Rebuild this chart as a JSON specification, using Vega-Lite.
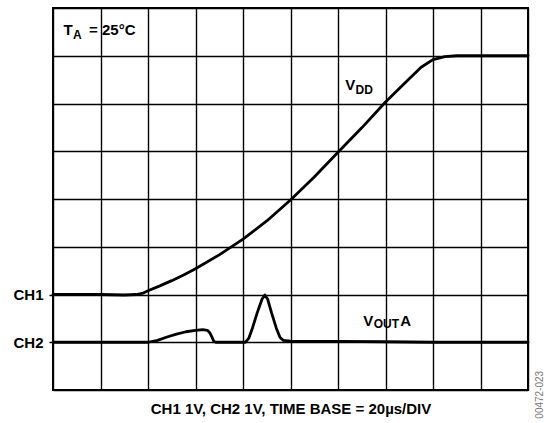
{
  "$schema": "https://vega.github.io/schema/vega-lite/v6.json",
  "width": 475,
  "height": 382,
  "autosize": {"type": "none"},
  "padding": {"left": 53, "top": 8, "right": 21, "bottom": 33},
  "background": "white",
  "config": {
    "view": {"stroke": "black", "strokeWidth": 2},
    "font": "Liberation Sans"
  },
  "datasets": {
    "traces": [
      {"series": "VDD", "x": 0, "y": 2.0},
      {"series": "VDD", "x": 1.0, "y": 2.0},
      {"series": "VDD", "x": 1.5, "y": 1.99},
      {"series": "VDD", "x": 1.75, "y": 2.0},
      {"series": "VDD", "x": 1.9, "y": 2.03},
      {"series": "VDD", "x": 2.0, "y": 2.08},
      {"series": "VDD", "x": 2.25, "y": 2.18},
      {"series": "VDD", "x": 2.5, "y": 2.29},
      {"series": "VDD", "x": 2.75, "y": 2.41},
      {"series": "VDD", "x": 3.0, "y": 2.54},
      {"series": "VDD", "x": 3.5, "y": 2.83},
      {"series": "VDD", "x": 4.0, "y": 3.16},
      {"series": "VDD", "x": 4.5, "y": 3.54},
      {"series": "VDD", "x": 5.0, "y": 3.98},
      {"series": "VDD", "x": 5.5, "y": 4.46},
      {"series": "VDD", "x": 6.0, "y": 4.98},
      {"series": "VDD", "x": 6.5, "y": 5.49},
      {"series": "VDD", "x": 7.0, "y": 6.03},
      {"series": "VDD", "x": 7.5, "y": 6.52},
      {"series": "VDD", "x": 7.75, "y": 6.76},
      {"series": "VDD", "x": 8.0, "y": 6.92},
      {"series": "VDD", "x": 8.25, "y": 6.98},
      {"series": "VDD", "x": 8.5, "y": 7.0},
      {"series": "VDD", "x": 10, "y": 7.0},
      {"series": "VOUTA", "x": 0, "y": 1.0},
      {"series": "VOUTA", "x": 2.0, "y": 1.0},
      {"series": "VOUTA", "x": 2.2, "y": 1.04},
      {"series": "VOUTA", "x": 2.4, "y": 1.11},
      {"series": "VOUTA", "x": 2.6, "y": 1.17},
      {"series": "VOUTA", "x": 2.8, "y": 1.22},
      {"series": "VOUTA", "x": 3.0, "y": 1.25},
      {"series": "VOUTA", "x": 3.15, "y": 1.265},
      {"series": "VOUTA", "x": 3.25, "y": 1.25},
      {"series": "VOUTA", "x": 3.3, "y": 1.2},
      {"series": "VOUTA", "x": 3.35, "y": 1.1},
      {"series": "VOUTA", "x": 3.38, "y": 1.03},
      {"series": "VOUTA", "x": 3.42, "y": 1.0},
      {"series": "VOUTA", "x": 4.05, "y": 1.0},
      {"series": "VOUTA", "x": 4.12, "y": 1.08},
      {"series": "VOUTA", "x": 4.2, "y": 1.3},
      {"series": "VOUTA", "x": 4.3, "y": 1.62},
      {"series": "VOUTA", "x": 4.4, "y": 1.9},
      {"series": "VOUTA", "x": 4.46, "y": 1.99},
      {"series": "VOUTA", "x": 4.52, "y": 1.9},
      {"series": "VOUTA", "x": 4.6, "y": 1.62},
      {"series": "VOUTA", "x": 4.7, "y": 1.3},
      {"series": "VOUTA", "x": 4.78, "y": 1.1},
      {"series": "VOUTA", "x": 4.85, "y": 1.04},
      {"series": "VOUTA", "x": 5.0, "y": 1.025},
      {"series": "VOUTA", "x": 6.0, "y": 1.02},
      {"series": "VOUTA", "x": 7.0, "y": 1.01},
      {"series": "VOUTA", "x": 8.0, "y": 1.0},
      {"series": "VOUTA", "x": 10, "y": 1.0}
    ],
    "mainText": [
      {"label": "T", "x": 0.22, "y": 7.43},
      {"label": "= 25°C", "x": 0.76, "y": 7.43},
      {"label": "V", "x": 6.15, "y": 6.28},
      {"label": "V", "x": 6.53, "y": 1.347},
      {"label": "A", "x": 7.31, "y": 1.347}
    ],
    "subText": [
      {"label": "A", "x": 0.42, "y": 7.36},
      {"label": "DD", "x": 6.37, "y": 6.2},
      {"label": "OUT", "x": 6.75, "y": 1.29}
    ],
    "figId": [
      {"label": "00472-023", "x": 10.25, "y": -0.1}
    ]
  },
  "encoding": {
    "x": {
      "field": "x",
      "type": "quantitative",
      "scale": {"domain": [0, 10], "nice": false, "zero": false},
      "axis": {
        "values": [0, 1, 2, 3, 4, 5, 6, 7, 8, 9, 10],
        "grid": true,
        "gridColor": "black",
        "gridWidth": 1.4,
        "gridOpacity": 1,
        "labels": false,
        "ticks": false,
        "domain": false,
        "title": "CH1 1V, CH2 1V, TIME BASE = 20µs/DIV",
        "titleFont": "Liberation Sans",
        "titleFontWeight": "bold",
        "titleFontSize": 15,
        "titleColor": "black",
        "titlePadding": 11
      }
    },
    "y": {
      "field": "y",
      "type": "quantitative",
      "scale": {"domain": [0, 8], "nice": false, "zero": false},
      "axis": {
        "values": [0, 1, 2, 3, 4, 5, 6, 7, 8],
        "grid": true,
        "gridColor": "black",
        "gridWidth": 1.4,
        "gridOpacity": 1,
        "domain": false,
        "ticks": true,
        "tickSize": 4,
        "tickColor": "black",
        "tickWidth": 1.5,
        "tickOpacity": {"condition": {"test": "datum.value == 1 || datum.value == 2", "value": 1}, "value": 0},
        "labelExpr": "datum.value == 2 ? 'CH1' : (datum.value == 1 ? 'CH2' : '')",
        "labelFont": "Liberation Sans",
        "labelFontWeight": "bold",
        "labelFontSize": 15,
        "labelColor": "black",
        "labelPadding": 6,
        "title": null
      }
    }
  },
  "layer": [
    {
      "data": {"name": "traces"},
      "mark": {"type": "line", "color": "black", "strokeWidth": 2.8, "strokeJoin": "round", "strokeCap": "round"},
      "encoding": {"detail": {"field": "series"}}
    },
    {
      "data": {"name": "mainText"},
      "mark": {"type": "text", "align": "left", "baseline": "alphabetic", "font": "Liberation Sans", "fontWeight": "bold", "fontSize": 15, "color": "black"},
      "encoding": {"text": {"field": "label"}}
    },
    {
      "data": {"name": "subText"},
      "mark": {"type": "text", "align": "left", "baseline": "alphabetic", "font": "Liberation Sans", "fontWeight": "bold", "fontSize": 12, "color": "black"},
      "encoding": {"text": {"field": "label"}}
    },
    {
      "data": {"name": "figId"},
      "mark": {"type": "text", "align": "center", "baseline": "middle", "angle": 270, "font": "Liberation Sans", "fontSize": 10, "color": "#777777"},
      "encoding": {"text": {"field": "label"}}
    }
  ]
}
